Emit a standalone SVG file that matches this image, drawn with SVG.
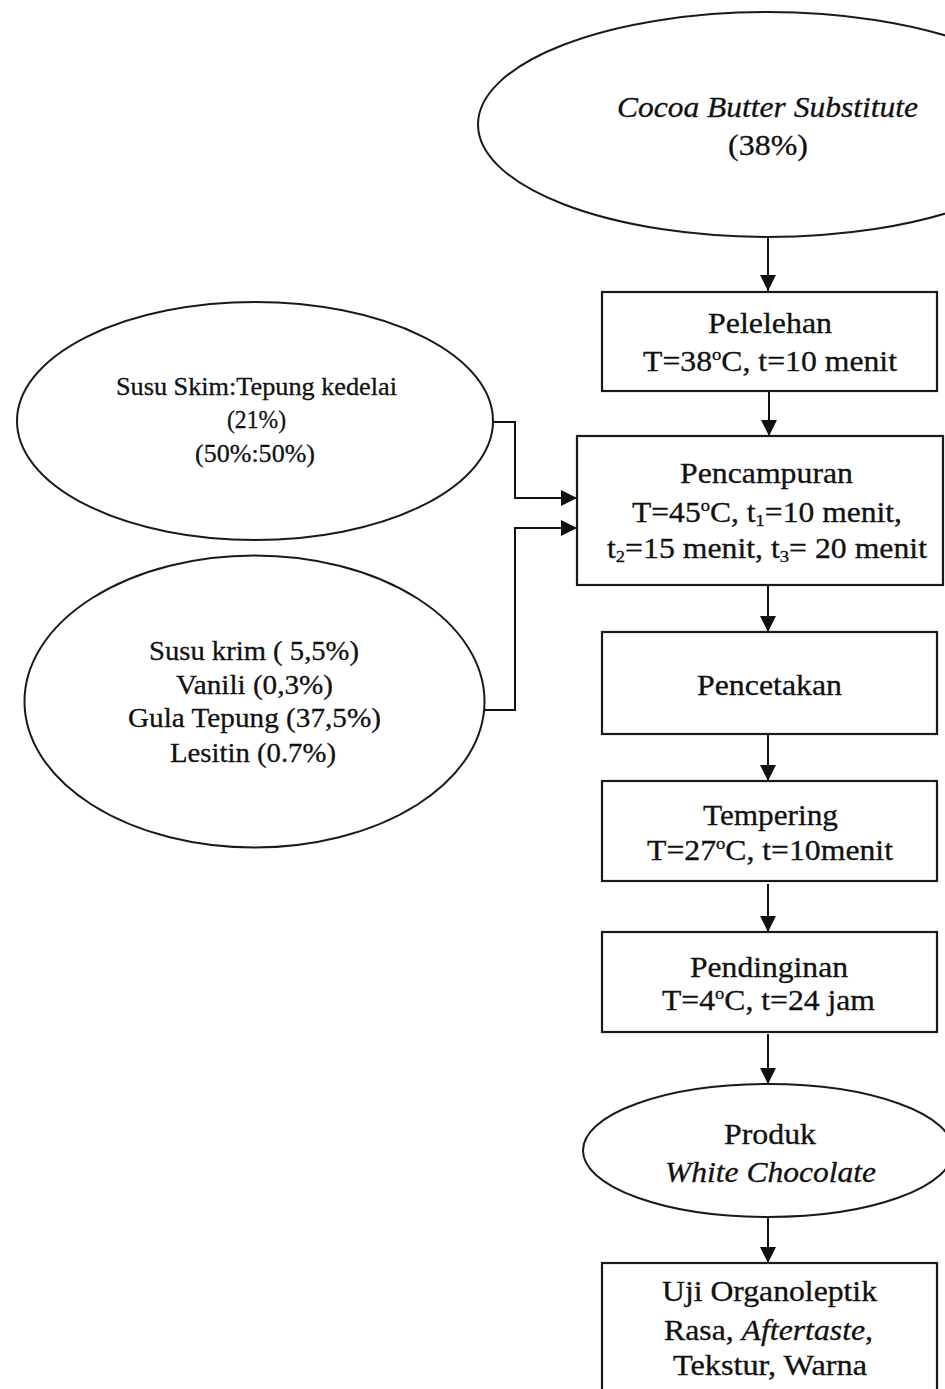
<svg xmlns="http://www.w3.org/2000/svg" width="945" height="1389" viewBox="0 0 945 1389">
<style>
.shape{fill:#fff;stroke:#1a1a1a;stroke-width:2.2}
.ell{fill:#fff;stroke:#1a1a1a;stroke-width:2}
.t{font-family:"Liberation Serif","Times New Roman",serif;fill:#111;stroke:#111;stroke-width:0.3;text-anchor:middle}
.b{font-size:29px}
.s{font-size:26px}
.m{font-size:28px}
.i{font-style:italic}
.con{fill:none;stroke:#111;stroke-width:2}
</style>
<defs>
<marker id="ah" markerUnits="userSpaceOnUse" markerWidth="18" markerHeight="18" refX="16" refY="8" orient="auto">
<path d="M0,0 L16,8 L0,16 z" fill="#111"/>
</marker>
</defs>
<rect width="945" height="1389" fill="#fff"/>

<g id="connectors">
<line class="con" x1="768" y1="237" x2="768" y2="291" marker-end="url(#ah)"/>
<line class="con" x1="769" y1="391" x2="769" y2="436" marker-end="url(#ah)"/>
<line class="con" x1="768" y1="585" x2="768" y2="632" marker-end="url(#ah)"/>
<line class="con" x1="768" y1="734" x2="768" y2="781" marker-end="url(#ah)"/>
<line class="con" x1="768" y1="884" x2="768" y2="932" marker-end="url(#ah)"/>
<line class="con" x1="768" y1="1034" x2="768" y2="1084" marker-end="url(#ah)"/>
<line class="con" x1="768" y1="1217" x2="768" y2="1263" marker-end="url(#ah)"/>
<polyline class="con" points="493,422 515,422 515,498 577,498" marker-end="url(#ah)"/>
<polyline class="con" points="484,710 515,710 515,528 577,528" marker-end="url(#ah)"/>
</g>

<g id="cbs">
<ellipse class="ell" cx="768" cy="124.5" rx="290" ry="112.5"/>
<text class="t i" style="font-size:30px" x="767.5" y="117" textLength="301" lengthAdjust="spacingAndGlyphs">Cocoa Butter Substitute</text>
<text class="t" style="font-size:30px" x="768" y="155" textLength="80" lengthAdjust="spacingAndGlyphs">(38%)</text>
</g>

<g id="pelelehan">
<rect class="shape" x="602" y="292" width="335" height="99"/>
<text class="t b" x="770" y="333" textLength="124" lengthAdjust="spacingAndGlyphs">Pelelehan</text>
<text class="t b" x="770" y="371" textLength="254" lengthAdjust="spacingAndGlyphs">T=38<tspan dy="-11" font-size="17">o</tspan><tspan dy="11">C, t=10 menit</tspan></text>
</g>

<g id="susu-skim">
<ellipse class="ell" cx="255" cy="421" rx="238" ry="119"/>
<text class="t s" x="256.5" y="395" textLength="281" lengthAdjust="spacingAndGlyphs">Susu Skim:Tepung kedelai</text>
<text class="t s" x="256.5" y="428" textLength="59" lengthAdjust="spacingAndGlyphs">(21%)</text>
<text class="t s" x="255" y="462" textLength="120" lengthAdjust="spacingAndGlyphs">(50%:50%)</text>
</g>

<g id="susu-krim">
<ellipse class="ell" cx="254.5" cy="701.5" rx="230" ry="146"/>
<text class="t m" x="254" y="660" textLength="210" lengthAdjust="spacingAndGlyphs">Susu krim ( 5,5%)</text>
<text class="t m" x="254.5" y="694" textLength="157" lengthAdjust="spacingAndGlyphs">Vanili (0,3%)</text>
<text class="t m" x="254.5" y="727" textLength="253" lengthAdjust="spacingAndGlyphs">Gula Tepung (37,5%)</text>
<text class="t m" x="253" y="762" textLength="166" lengthAdjust="spacingAndGlyphs">Lesitin (0.7%)</text>
</g>

<g id="pencampuran">
<rect class="shape" x="577" y="436" width="366" height="149"/>
<text class="t b" x="766.5" y="483" textLength="173" lengthAdjust="spacingAndGlyphs">Pencampuran</text>
<text class="t b" x="767" y="522" textLength="270" lengthAdjust="spacingAndGlyphs">T=45<tspan dy="-11" font-size="17">o</tspan><tspan dy="11">C, t</tspan><tspan dy="4" font-size="17">1</tspan><tspan dy="-4">=10 menit,</tspan></text>
<text class="t b" x="767" y="558" textLength="320" lengthAdjust="spacingAndGlyphs">t<tspan dy="4" font-size="17">2</tspan><tspan dy="-4">=15 menit, t</tspan><tspan dy="4" font-size="17">3</tspan><tspan dy="-4">= 20 menit</tspan></text>
</g>

<g id="pencetakan">
<rect class="shape" x="602" y="632" width="335" height="102"/>
<text class="t b" x="769.5" y="695" textLength="145" lengthAdjust="spacingAndGlyphs">Pencetakan</text>
</g>

<g id="tempering">
<rect class="shape" x="602" y="781" width="335" height="100"/>
<text class="t b" x="770.5" y="825" textLength="135" lengthAdjust="spacingAndGlyphs">Tempering</text>
<text class="t b" x="770" y="860" textLength="246" lengthAdjust="spacingAndGlyphs">T=27<tspan dy="-11" font-size="17">o</tspan><tspan dy="11">C, t=10menit</tspan></text>
</g>

<g id="pendinginan">
<rect class="shape" x="602" y="932" width="335" height="100"/>
<text class="t b" x="769" y="977" textLength="158" lengthAdjust="spacingAndGlyphs">Pendinginan</text>
<text class="t b" x="768.5" y="1010" textLength="213" lengthAdjust="spacingAndGlyphs">T=4<tspan dy="-11" font-size="17">o</tspan><tspan dy="11">C, t=24 jam</tspan></text>
</g>

<g id="produk">
<ellipse class="ell" cx="768" cy="1150.5" rx="185" ry="66.5"/>
<text class="t b" x="770" y="1144" textLength="92" lengthAdjust="spacingAndGlyphs">Produk</text>
<text class="t b i" x="770.5" y="1182" textLength="211" lengthAdjust="spacingAndGlyphs">White Chocolate</text>
</g>

<g id="uji">
<rect class="shape" x="602" y="1263" width="335" height="145"/>
<text class="t b" x="769.5" y="1301" textLength="215" lengthAdjust="spacingAndGlyphs">Uji Organoleptik</text>
<text class="t b" x="768.5" y="1340" textLength="209" lengthAdjust="spacingAndGlyphs">Rasa, <tspan font-style="italic">Aftertaste</tspan>,</text>
<text class="t b" x="770" y="1375" textLength="194" lengthAdjust="spacingAndGlyphs">Tekstur, Warna</text>
</g>
</svg>
